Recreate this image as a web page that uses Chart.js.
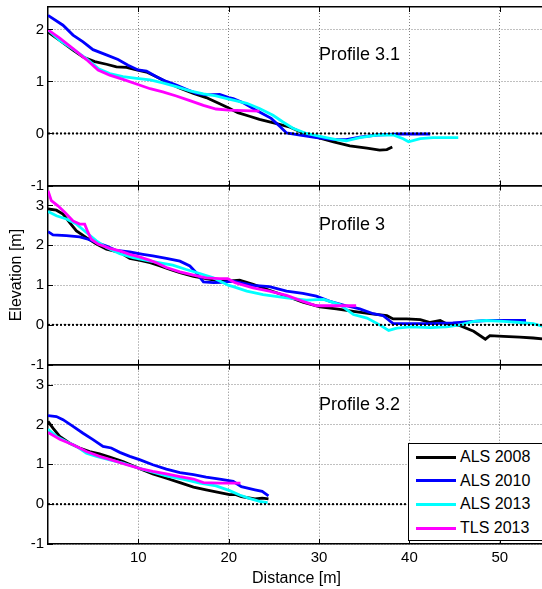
<!DOCTYPE html>
<html>
<head>
<meta charset="utf-8">
<title>Beach profiles</title>
<script src="https://cdn.jsdelivr.net/npm/chart.js@4.4.0/dist/chart.umd.min.js"></script>
<style>
  html, body { margin: 0; padding: 0; background: #fff; }
  #fig { position: relative; width: 542px; height: 589px; overflow: hidden;
         font-family: "Liberation Sans", Arial, sans-serif; }
  #fig canvas { position: absolute; left: 0; top: 0; }
  #legend { position: absolute; left: 408px; top: 443px; width: 140px; height: 96px;
            border: 1.5px solid #000; background: #fff; }
  #legend .row { position: absolute; left: 0; height: 20px; }
  #legend .swatch { position: absolute; left: 7px; top: 8.5px; width: 40px; height: 3px; }
  #legend .name { position: absolute; left: 51px; top: 1px; font-size: 16px; line-height: 18px;
                  color: #000; white-space: nowrap; }
</style>
</head>
<body>
<div id="fig">
  <canvas id="p31" width="545" height="589"></canvas>
  <canvas id="p3" width="545" height="589"></canvas>
  <canvas id="p32" width="545" height="589"></canvas>
  <div id="legend"></div>
</div>
<script>
// survey series, same order in every panel
const seriesNames = ['ALS 2008', 'ALS 2010', 'ALS 2013', 'TLS 2013'];
const seriesColors = ['#000000', '#0000ff', '#00ffff', '#ff00ff'];

const xTicks = [10, 20, 30, 40, 50];
const yTicksTop = [-1, 0, 1, 2];
const yTicksLower = [-1, 0, 1, 2, 3];

// Profile 3.1  [distance m, elevation m]
const p31_als2008 = [[0,1.95],[1.3,1.79],[2.77,1.60],[3.88,1.47],[5.17,1.38],[6.47,1.33],[7.57,1.28],[8.68,1.27],[9.79,1.22],[10.9,1.18],[12.0,1.09],[13.1,0.99],[14.6,0.87],[16.1,0.77],[17.5,0.69],[19.0,0.57],[20.0,0.49],[21.0,0.40],[22.3,0.33],[23.4,0.27],[25.3,0.19],[26.8,0.12],[28.2,0.01],[29.7,-0.07],[31.6,-0.16],[33.4,-0.24],[35.3,-0.28],[36.7,-0.32],[37.5,-0.31],[38.1,-0.26]];
const p31_als2010 = [[0,2.27],[1.66,2.08],[2.77,1.89],[3.88,1.76],[4.98,1.61],[6.46,1.51],[7.75,1.42],[8.86,1.31],[9.97,1.22],[10.9,1.20],[12.0,1.09],[13.1,1.00],[14.2,0.93],[15.3,0.85],[16.4,0.77],[17.5,0.74],[19.0,0.75],[20.0,0.69],[20.5,0.67],[21.6,0.59],[23.3,0.42],[24.7,0.29],[25.7,0.13],[26.4,0.01],[27.9,-0.03],[29.7,-0.08],[31.6,-0.12],[33.0,-0.12],[34.5,-0.07],[36.4,-0.03],[38.9,-0.01],[42.3,-0.01]];
const p31_als2013 = [[0,1.99],[1.3,1.79],[2.77,1.62],[4.25,1.44],[5.54,1.25],[6.83,1.15],[8.3,1.09],[9.79,1.06],[11.3,1.03],[12.7,0.97],[14.2,0.90],[15.7,0.82],[17.2,0.76],[18.6,0.72],[20.0,0.66],[20.5,0.64],[22.0,0.58],[23.4,0.48],[24.9,0.35],[26.0,0.22],[27.1,0.10],[28.6,0.0],[30.5,-0.07],[31.9,-0.12],[33.0,-0.14],[34.5,-0.08],[36.4,-0.03],[38.2,-0.03],[39.3,-0.10],[39.9,-0.16],[41.2,-0.10],[42.6,-0.08],[44.1,-0.08],[45.4,-0.08]];
const p31_tls2013 = [[0,1.99],[1.3,1.83],[2.77,1.63],[4.25,1.42],[5.54,1.22],[6.83,1.12],[8.3,1.04],[9.79,0.95],[11.3,0.86],[12.7,0.80],[14.2,0.72],[15.7,0.63],[17.2,0.54],[18.6,0.47],[20.0,0.45],[23.4,0.43]];

// Profile 3
const p3_als2008 = [[0,2.91],[0.93,2.88],[1.66,2.78],[2.4,2.57],[3.15,2.36],[4.25,2.19],[5.36,2.03],[6.47,1.90],[7.94,1.82],[9.05,1.67],[10.2,1.62],[11.3,1.56],[12.4,1.48],[13.5,1.39],[14.6,1.31],[16.1,1.22],[17.5,1.16],[19.0,1.10],[20.0,1.10],[21.2,1.12],[22.7,1.02],[24.5,0.87],[26.4,0.72],[28.2,0.57],[30.1,0.45],[31.9,0.40],[33.8,0.34],[35.6,0.28],[37.5,0.23],[38.2,0.15],[39.7,0.15],[41.2,0.13],[42.3,0.06],[43.4,0.11],[44.1,0.03],[45.6,-0.02],[47.1,-0.16],[48.4,-0.36],[48.9,-0.27],[50.4,-0.29],[52.2,-0.31],[53.7,-0.33],[55,-0.36]];
const p3_als2010 = [[0,2.34],[0.55,2.26],[2.03,2.24],[3.51,2.21],[4.43,2.15],[5.36,2.07],[6.47,1.98],[7.57,1.87],[9.05,1.83],[10.5,1.77],[11.6,1.73],[13.1,1.67],[14.6,1.60],[15.7,1.48],[16.4,1.31],[17.2,1.08],[18.3,1.06],[19.2,1.07],[20.5,1.10],[22.7,0.99],[24.5,0.96],[26.4,0.85],[28.2,0.79],[29.7,0.72],[31.2,0.59],[33.0,0.48],[34.5,0.40],[36.0,0.28],[37.1,0.23],[38.2,0.03],[39.7,0.03],[42.6,0.03],[44.8,0.05],[47.1,0.09],[48.5,0.11],[52.9,0.11]];
const p3_als2013 = [[0,2.85],[0.93,2.74],[2.03,2.66],[3.15,2.53],[4.25,2.32],[5.36,2.11],[6.47,1.94],[7.94,1.79],[9.41,1.69],[10.9,1.62],[12.4,1.56],[13.8,1.50],[15.3,1.39],[16.8,1.29],[18.3,1.18],[19.0,1.10],[20.0,0.99],[20.5,0.96],[22.0,0.85],[23.8,0.76],[26.4,0.68],[28.6,0.62],[30.5,0.64],[32.3,0.51],[33.8,0.26],[35.3,0.17],[36.7,0.0],[37.7,-0.14],[38.6,-0.08],[40.1,-0.05],[42.3,-0.07],[44.1,-0.05],[45.6,0.0],[47.1,0.09],[48.5,0.11],[50.4,0.09],[52.2,0.06],[53.7,0.03],[55,-0.05]];
const p3_tls2013 = [[0,3.37],[0.37,3.12],[1.1,2.99],[1.85,2.83],[2.77,2.61],[3.5,2.53],[4.06,2.53],[4.43,2.32],[4.8,2.15],[5.54,2.03],[6.83,1.92],[7.94,1.86],[9.05,1.77],[10.2,1.70],[11.3,1.62],[12.0,1.56],[13.1,1.44],[14.6,1.33],[16.1,1.25],[17.5,1.18],[19.0,1.16],[19.9,1.16],[20.7,1.06],[22.7,0.93],[24.5,0.85],[26.4,0.74],[28.2,0.59],[29.7,0.48],[34.1,0.48]];

// Profile 3.2
const p32_als2008 = [[0,2.08],[0.55,1.91],[1.3,1.70],[2.4,1.53],[3.5,1.41],[4.6,1.32],[5.7,1.26],[6.83,1.18],[8.3,1.07],[9.4,0.96],[10.5,0.86],[11.6,0.76],[13.1,0.65],[14.6,0.54],[16.1,0.43],[17.5,0.36],[19.0,0.29],[20.1,0.24],[20.8,0.24],[21.4,0.19],[22.9,0.13],[23.7,0.15],[24.4,0.13]];
const p32_als2010 = [[0,2.22],[0.93,2.20],[1.66,2.12],[2.77,1.95],[3.88,1.78],[4.98,1.62],[6.09,1.45],[7.0,1.41],[7.94,1.30],[9.05,1.20],[10.2,1.11],[11.6,0.99],[13.1,0.88],[14.6,0.79],[16.1,0.74],[17.5,0.68],[19.0,0.63],[20.5,0.57],[21.4,0.44],[22.9,0.36],[23.7,0.32],[24.4,0.21]];
const p32_als2013 = [[0,1.88],[0.93,1.70],[2.03,1.57],[3.15,1.45],[4.25,1.28],[5.36,1.20],[6.83,1.11],[8.3,1.03],[9.79,0.92],[11.3,0.82],[13.1,0.71],[14.9,0.63],[16.8,0.53],[18.6,0.46],[20.1,0.34],[21.2,0.23],[22.2,0.15],[23.4,0.07],[24.3,0.04]];
const p32_tls2013 = [[0,1.80],[1.3,1.63],[2.77,1.49],[4.25,1.32],[5.7,1.20],[7.2,1.10],[8.7,0.99],[10.2,0.89],[11.6,0.82],[13.1,0.76],[14.6,0.69],[16.1,0.63],[17.2,0.54],[19.0,0.53],[21.3,0.53]];

const FONT = '"Liberation Sans", Arial, sans-serif';
const X_MIN = 0, X_MAX = 55;
const H = 589;

Chart.defaults.font.family = FONT;
Chart.defaults.color = '#000';

// panel title text plus the short inward tick marks on the axes box
const panelDecor = {
  id: 'panelDecor',
  afterDatasetsDraw(chart, args, opts) {
    const { ctx, chartArea: a, scales: { x, y } } = chart;
    ctx.save();
    ctx.strokeStyle = '#000';
    ctx.lineWidth = 1;
    ctx.beginPath();
    x.ticks.forEach(t => {
      const px = Math.round(x.getPixelForValue(t.value)) + 0.5;
      ctx.moveTo(px, a.top); ctx.lineTo(px, a.top + 5);
      ctx.moveTo(px, a.bottom); ctx.lineTo(px, a.bottom - 5);
    });
    y.ticks.forEach(t => {
      const py = Math.round(y.getPixelForValue(t.value)) + 0.5;
      ctx.moveTo(a.left, py); ctx.lineTo(a.left + 5, py);
    });
    ctx.stroke();
    ctx.fillStyle = '#000';
    ctx.font = '18px ' + FONT;
    ctx.textAlign = 'left';
    ctx.textBaseline = 'middle';
    ctx.fillText(opts.text, x.getPixelForValue(opts.at[0]), y.getPixelForValue(opts.at[1]));
    ctx.restore();
  }
};

function makePanel(id, cfg) {
  const datasets = seriesNames.map((name, i) => ({
    label: name,
    data: cfg.series[i].map(([x, y]) => ({ x, y })),
    borderColor: seriesColors[i],
    borderWidth: 2.8,
    pointRadius: 0,
    tension: 0,
    order: 4 - i
  }));
  // dotted zero level drawn over the profiles
  datasets.push({
    label: 'Zero level',
    data: [{ x: X_MIN, y: 0 }, { x: X_MAX, y: 0 }],
    borderColor: '#000',
    borderWidth: 2,
    borderDash: [2, 2],
    pointRadius: 0,
    order: 0
  });

  const xAxisH = cfg.showX ? 45 : 0;
  const gridColor = '#808080';

  new Chart(document.getElementById(id), {
    type: 'line',
    data: { datasets },
    options: {
      responsive: false,
      animation: false,
      devicePixelRatio: 1,
      layout: { padding: { top: cfg.top, bottom: H - cfg.bottom - xAxisH, left: 0, right: 0 } },
      plugins: {
        legend: { display: false },
        tooltip: { enabled: false },
        panelDecor: { text: cfg.title, at: cfg.titleAt }
      },
      scales: {
        x: {
          type: 'linear',
          min: X_MIN,
          max: X_MAX,
          afterBuildTicks: ax => { ax.ticks = xTicks.map(v => ({ value: v })); },
          afterFit: ax => { ax.height = xAxisH; ax.paddingLeft = 0; ax.paddingRight = 0; },
          grid: { color: gridColor, lineWidth: 1, drawTicks: false },
          border: { display: true, color: '#000', width: 1.5, dash: [1, 2] },
          ticks: { display: cfg.showX, padding: 5, font: { size: 15 }, color: '#000' },
          title: {
            display: cfg.showX,
            text: 'Distance [m]',
            font: { size: 16 },
            color: '#000',
            padding: { top: 0, bottom: 1 }
          }
        },
        xTop: {
          type: 'linear',
          position: 'top',
          min: X_MIN,
          max: X_MAX,
          afterFit: ax => { ax.height = 0; ax.paddingLeft = 0; ax.paddingRight = 0; },
          grid: { display: false },
          ticks: { display: false },
          border: { display: true, color: '#000', width: 1.5 }
        },
        y: {
          min: cfg.ymin,
          max: cfg.ymax,
          afterBuildTicks: ax => { ax.ticks = cfg.yTicks.map(v => ({ value: v })); },
          // fixed gutter, no extra room reserved for the end labels
          afterFit: ax => { ax.width = 48; ax.paddingTop = 0; ax.paddingBottom = 0; },
          grid: { color: gridColor, lineWidth: 1, drawTicks: false },
          border: { display: true, color: '#000', width: 1.5, dash: [1, 2] },
          ticks: { padding: 4, font: { size: 15 }, color: '#000' },
          title: {
            display: !!cfg.yTitle,
            text: cfg.yTitle || '',
            font: { size: 16 },
            color: '#000',
            padding: { top: 7, bottom: 0 }
          }
        }
      }
    },
    plugins: [panelDecor]
  });
}

makePanel('p31', {
  top: 7, bottom: 185.5, ymin: -1, ymax: 2.43, yTicks: yTicksTop,
  series: [p31_als2008, p31_als2010, p31_als2013, p31_tls2013],
  title: 'Profile 3.1', titleAt: [30, 1.5], showX: false
});
makePanel('p3', {
  top: 185.5, bottom: 364.7, ymin: -1, ymax: 3.5, yTicks: yTicksLower,
  series: [p3_als2008, p3_als2010, p3_als2013, p3_tls2013],
  title: 'Profile 3', titleAt: [30, 2.5], showX: false, yTitle: 'Elevation [m]'
});
makePanel('p32', {
  top: 364.7, bottom: 544, ymin: -1, ymax: 3.5, yTicks: yTicksLower,
  series: [p32_als2008, p32_als2010, p32_als2013, p32_tls2013],
  title: 'Profile 3.2', titleAt: [30, 2.5], showX: true
});

// legend box inside the lower panel
const legend = document.getElementById('legend');
seriesNames.forEach((name, i) => {
  const row = document.createElement('div');
  row.className = 'row';
  row.style.top = (3 + i * 23.7) + 'px';
  const sw = document.createElement('div');
  sw.className = 'swatch';
  sw.style.background = seriesColors[i];
  const label = document.createElement('div');
  label.className = 'name';
  label.textContent = name;
  row.appendChild(sw);
  row.appendChild(label);
  legend.appendChild(row);
});
</script>
</body>
</html>
